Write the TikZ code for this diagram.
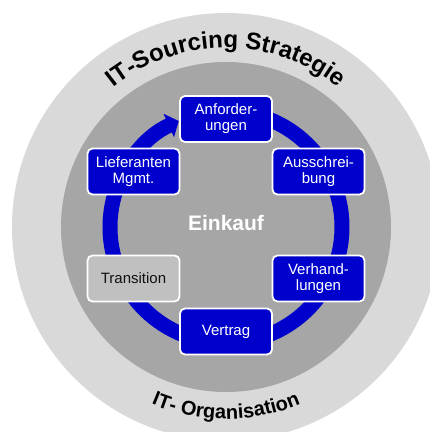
\documentclass[tikz,border=0pt]{standalone}
\usepackage{fontspec}
\setmainfont{Liberation Sans}
\usetikzlibrary{arrows.meta,decorations.text}
\definecolor{ringblue}{HTML}{0000CC}
\definecolor{outergray}{HTML}{D9D9D9}
\definecolor{innergray}{HTML}{A6A6A6}
\definecolor{transgray}{HTML}{C0C0C0}
\definecolor{darktext}{HTML}{111111}
\begin{document}
\begin{tikzpicture}[x=1pt,y=1pt,
  stepbox/.style={draw=white, line width=1.8pt, fill=ringblue, rounded corners=5pt,
    minimum width=92pt, minimum height=46pt, text=white, align=center,
    font=\fontsize{15}{16}\selectfont, inner sep=0pt},
  transbox/.style={stepbox, fill=transgray, text=darktext},
  centerlabel/.style={text=white, font=\fontsize{21}{21}\selectfont\bfseries},
  ring/.style={draw=ringblue, line width=15pt}
]
\useasboundingbox (0,0) rectangle (430,432);
\fill[white] (0,0) rectangle (430,432);
\coordinate (C) at (226,205);
\begin{scope}
  \clip (0,0) rectangle (430,432);
  \fill[outergray] (C) circle (214);
\end{scope}
\fill[innergray] (C) circle (165);
% ring with arrow
\draw[ring, -{Triangle[width=25pt,length=11pt]}]
  ([shift={(80:116)}]C) arc[start angle=80, end angle=-246, radius=116];
% boxes
\node[stepbox] (anf) at (226,313) {Anforder-\\ungen};
\node[stepbox] (aus) at (318.5,260.5) {Ausschrei-\\bung};
\node[stepbox] (ver) at (318.5,153.5) {Verhand-\\lungen};
\node[stepbox] (vtr) at (226,100.5) {Vertrag};
\node[transbox] (tra) at (133.5,153.5) {Transition};
\node[stepbox] (lie) at (133.5,260.5) {Lieferanten\\Mgmt.};
\node[centerlabel] (ein) at (226,209) {Einkauf};
% curved texts
\path[decorate, decoration={text along path, text align=center, text color=black,
  text={|\fontsize{24}{24}\selectfont\bfseries|IT-Sourcing Strategie}}]
  ([shift={(160:179)}]C) arc[start angle=160, end angle=20, radius=179];
\path[decorate, decoration={text along path, text align=center, text color=black,
  text={|\fontsize{20}{20}\selectfont\bfseries|IT- Organisation}}]
  ([shift={(200:192)}]C) arc[start angle=200, end angle=340, radius=192];
\end{tikzpicture}
\end{document}
